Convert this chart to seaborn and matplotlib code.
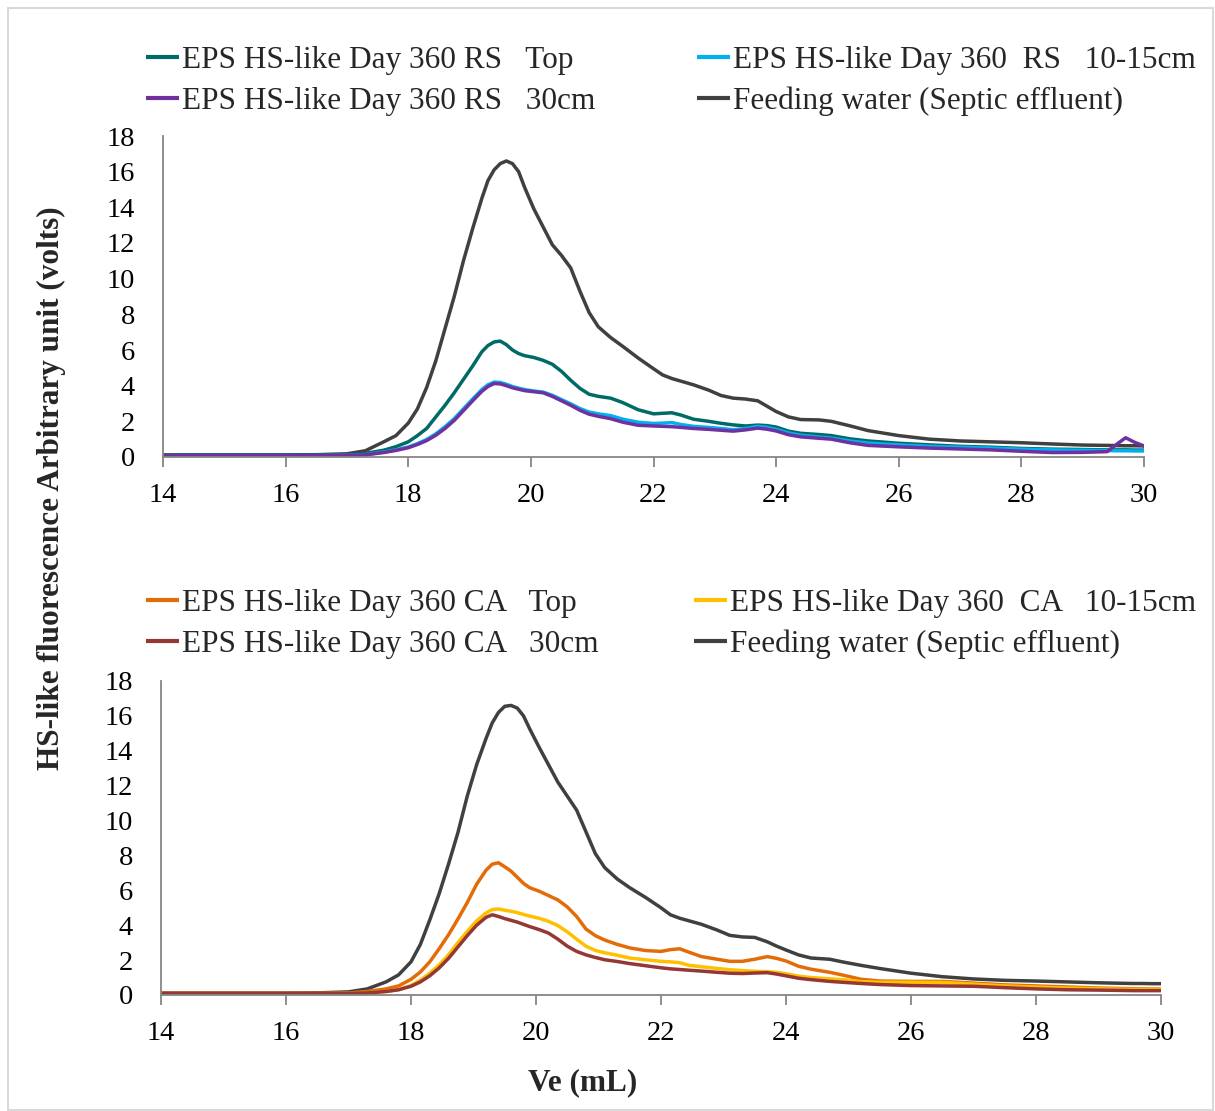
import numpy as np
import pandas as pd
import matplotlib
matplotlib.use("Agg")
import matplotlib.pyplot as plt
from matplotlib.patches import Rectangle
import seaborn as sns

# ---------------- data ----------------
ve = [14, 15, 16, 16.5, 17, 17.3, 17.6, 17.8,
      18.0, 18.15, 18.3, 18.45, 18.6, 18.75, 18.9, 19.05, 19.2, 19.3, 19.4, 19.5, 19.6, 19.7, 19.8, 19.9,
      20.05, 20.2, 20.35, 20.5, 20.65, 20.8, 20.95, 21.1, 21.3, 21.5, 21.75,
      22.0, 22.15, 22.3, 22.45, 22.65, 22.9, 23.1, 23.3, 23.5, 23.7, 23.85,
      24.0, 24.2, 24.4, 24.7, 24.9, 25.2, 25.5,
      26.0, 26.5, 27.0, 27.5, 28.0, 28.5, 29.0, 29.4, 29.55, 29.7, 29.85, 30.0]

feed_top = [0.12, 0.12, 0.12, 0.13, 0.18, 0.35, 0.85, 1.2,
            1.9, 2.7, 3.9, 5.4, 7.2, 9.0, 11.0, 12.8, 14.5, 15.5, 16.1, 16.45, 16.6, 16.45, 16.0, 15.1,
            13.9, 12.9, 11.9, 11.3, 10.6, 9.3, 8.1, 7.3, 6.7, 6.2, 5.55,
            4.95, 4.6, 4.4, 4.25, 4.05, 3.75, 3.45, 3.3, 3.25, 3.15, 2.85,
            2.55, 2.25, 2.1, 2.08, 2.0, 1.75, 1.48,
            1.2, 1.0, 0.9, 0.85, 0.8, 0.73, 0.67, 0.65, 0.64, 0.63, 0.63, 0.62]
rs_top = [0.1, 0.1, 0.1, 0.1, 0.13, 0.2, 0.38, 0.58,
          0.85, 1.2, 1.6, 2.25, 2.9, 3.6, 4.35, 5.1, 5.9, 6.25, 6.45, 6.5, 6.3, 6.0, 5.8, 5.68,
          5.58, 5.42, 5.2, 4.8, 4.3, 3.85, 3.52, 3.4, 3.3, 3.05, 2.65,
          2.42, 2.45, 2.48, 2.35, 2.12, 2.0, 1.89, 1.8, 1.74, 1.79, 1.76,
          1.68, 1.45, 1.33, 1.26, 1.2, 1.02, 0.9,
          0.77, 0.68, 0.6, 0.55, 0.48, 0.44, 0.42, 0.4, 0.4, 0.4, 0.39, 0.39]
rs_mid = [0.08, 0.08, 0.08, 0.08, 0.1, 0.13, 0.28, 0.4,
          0.56, 0.75, 0.98, 1.3, 1.7, 2.15, 2.7, 3.25, 3.78, 4.05, 4.2, 4.18, 4.08, 3.95, 3.86, 3.78,
          3.7, 3.64, 3.46, 3.22, 2.98, 2.72, 2.52, 2.42, 2.32, 2.12, 1.95,
          1.88, 1.9, 1.93, 1.82, 1.72, 1.66, 1.6, 1.53, 1.6, 1.72, 1.66,
          1.55, 1.35, 1.22, 1.12, 1.06, 0.9, 0.78,
          0.68, 0.6, 0.55, 0.5, 0.44, 0.4, 0.38, 0.36, 0.35, 0.35, 0.34, 0.34]
rs_30 = [0.08, 0.08, 0.08, 0.08, 0.1, 0.12, 0.25, 0.37,
         0.52, 0.7, 0.92, 1.22, 1.6, 2.05, 2.6, 3.15, 3.68, 3.95, 4.12, 4.1, 4.0, 3.88, 3.8, 3.72,
         3.66, 3.6, 3.4, 3.15, 2.9, 2.62, 2.4, 2.28, 2.15, 1.95, 1.78,
         1.74, 1.72, 1.7, 1.66, 1.6, 1.55, 1.5, 1.45, 1.52, 1.62, 1.56,
         1.46, 1.25, 1.13, 1.05, 1.0, 0.8, 0.65,
         0.57, 0.5, 0.45, 0.4, 0.32, 0.25, 0.26, 0.3, 0.7, 1.08, 0.82, 0.62]

feed_bot = [0.1, 0.1, 0.1, 0.12, 0.18, 0.35, 0.75, 1.15,
            1.9, 2.9, 4.3, 5.8, 7.5, 9.3, 11.4, 13.2, 14.7, 15.6, 16.2, 16.55, 16.6, 16.45, 16.0, 15.25,
            14.2, 13.2, 12.2, 11.4, 10.6, 9.35, 8.1, 7.3, 6.65, 6.15, 5.6,
            5.0, 4.6, 4.4, 4.25, 4.05, 3.72, 3.42, 3.33, 3.3, 3.05, 2.8,
            2.58, 2.3, 2.12, 2.05, 1.9, 1.7, 1.52,
            1.25, 1.05, 0.92, 0.84, 0.8, 0.75, 0.7, 0.67, 0.66, 0.66, 0.65, 0.65]
ca_top = [0.1, 0.1, 0.1, 0.1, 0.12, 0.2, 0.35, 0.52,
          0.9, 1.32, 1.9, 2.65, 3.45, 4.35, 5.3, 6.35, 7.15, 7.5, 7.58, 7.35, 7.1, 6.75, 6.4, 6.15,
          5.95, 5.7, 5.45, 5.05, 4.5, 3.78, 3.4, 3.15, 2.9, 2.7, 2.55,
          2.5, 2.6, 2.65, 2.45, 2.2, 2.05, 1.93, 1.93, 2.05, 2.2, 2.1,
          1.95, 1.65, 1.48, 1.3, 1.15, 0.9, 0.8,
          0.78, 0.78, 0.68, 0.58, 0.52, 0.46, 0.4, 0.37, 0.36, 0.35, 0.34, 0.34]
ca_mid = [0.08, 0.08, 0.08, 0.08, 0.1, 0.12, 0.2, 0.3,
          0.55, 0.85, 1.25, 1.72, 2.3, 3.0, 3.65, 4.25, 4.7, 4.9, 4.93, 4.86, 4.8, 4.72, 4.62, 4.52,
          4.4, 4.22, 3.98, 3.62, 3.2, 2.8, 2.55, 2.42, 2.28, 2.12, 2.02,
          1.93, 1.9, 1.85, 1.7, 1.62, 1.52, 1.45, 1.4, 1.36, 1.34, 1.3,
          1.22, 1.08, 1.0, 0.93, 0.88, 0.77, 0.73,
          0.73, 0.72, 0.62, 0.52, 0.45, 0.4, 0.36, 0.33, 0.32, 0.32, 0.31, 0.31]
ca_30 = [0.1, 0.1, 0.1, 0.1, 0.1, 0.12, 0.2, 0.3,
         0.5, 0.75, 1.1, 1.55, 2.1, 2.75, 3.4, 4.0, 4.45, 4.6, 4.5, 4.38, 4.28, 4.18, 4.05, 3.92,
         3.75, 3.55, 3.2, 2.8, 2.5, 2.3, 2.15, 2.02, 1.92, 1.8, 1.68,
         1.56, 1.5, 1.46, 1.42, 1.37, 1.3, 1.25, 1.23, 1.26, 1.28, 1.2,
         1.1, 0.96, 0.88, 0.78, 0.73, 0.66, 0.6,
         0.54, 0.52, 0.5, 0.42, 0.35, 0.3, 0.28, 0.26, 0.25, 0.25, 0.25, 0.25]

top_labels = ["EPS HS-like Day 360 RS   Top", "EPS HS-like Day 360 RS   30cm",
              "EPS HS-like Day 360  RS   10-15cm", "Feeding water (Septic effluent)"]
bot_labels = ["EPS HS-like Day 360 CA   Top", "EPS HS-like Day 360 CA   30cm",
              "EPS HS-like Day 360  CA   10-15cm", "Feeding water (Septic effluent)"]
top_series = [rs_top, rs_30, rs_mid, feed_top]
bot_series = [ca_top, ca_30, ca_mid, feed_bot]
top_colors = ["#006B66", "#7030A0", "#00B0F0", "#404040"]
bot_colors = ["#E36C09", "#953735", "#FFC000", "#404040"]
draw_order = [3, 0, 2, 1]

x_ticks = [14, 16, 18, 20, 22, 24, 26, 28, 30]
y_ticks = [0, 2, 4, 6, 8, 10, 12, 14, 16, 18]

# ---------------- style ----------------
sns.set_theme(style="white")
plt.rcParams['font.family'] = ['Liberation Serif', 'DejaVu Serif']

W, H = 1215, 1111
fig = plt.figure(figsize=(W / 100, H / 100), dpi=100)
fig.patch.set_facecolor("white")
fig.add_artist(Rectangle((8 / W, 1 / H), 1 - 10 / W, 1 - 9 / H, transform=fig.transFigure,
                         fill=False, edgecolor="#D9D9D9", linewidth=1.5))

def ax_rect(l, r, t, b):
    return [l / W, 1 - b / H, (r - l) / W, (b - t) / H]

ax1 = fig.add_axes(ax_rect(163, 1144, 136, 457))
ax2 = fig.add_axes(ax_rect(161, 1161, 681, 995))

FS_TICK = 20.5
FS_LEG = 22.5
for ax, series, labels, colors, leg_y, cols in [
        (ax1, top_series, top_labels, top_colors, 58, (146, 697)),
        (ax2, bot_series, bot_labels, bot_colors, 601, (146, 694))]:
    handles = [None] * 4
    for i in draw_order:
        df = pd.DataFrame({"ve": ve, "v": series[i]})
        sns.lineplot(data=df, x="ve", y="v", ax=ax, color=colors[i], linewidth=2.5,
                     label=labels[i], legend=False, sort=False,
                     solid_joinstyle="round", solid_capstyle="round")
        handles[i] = ax.lines[-1]
    ax.set_xlim(14, 30)
    ax.set_ylim(0, 18)
    ax.set_xticks(x_ticks)
    ax.set_yticks(y_ticks)
    ax.set_xticklabels([str(t) for t in x_ticks])
    ax.set_yticklabels([str(t) for t in y_ticks])
    ax.set_xlabel("")
    ax.set_ylabel("")
    for s in ["top", "right"]:
        ax.spines[s].set_visible(False)
    for s in ["left", "bottom"]:
        ax.spines[s].set_color("#868686")
        ax.spines[s].set_linewidth(1.3)
    ax.tick_params(axis="x", direction="out", length=7, width=1.3, color="#868686",
                   pad=12, labelsize=FS_TICK, labelcolor="black", bottom=True)
    ax.tick_params(axis="y", length=0, pad=20, labelsize=FS_TICK, labelcolor="black", left=True)
    # legend: two columns as two legends
    for col, xpos in enumerate(cols):
        leg = fig.legend(handles=handles[2 * col:2 * col + 2], labels=labels[2 * col:2 * col + 2],
                         loc="upper left", bbox_to_anchor=(xpos / W, 1 - (leg_y - 12) / H),
                         frameon=False, fontsize=FS_LEG, handlelength=1.05, handletextpad=0.1,
                         borderpad=0, borderaxespad=0, labelspacing=0.37)
        for ln in leg.get_lines():
            ln.set_linewidth(3)
            ln.set_solid_capstyle("butt")

fig.text(51 / W, 1 - 488 / H, "HS-like fluorescence Arbitrary unit (volts)", rotation=90,
         ha="center", va="center", fontsize=FS_LEG, fontweight="bold")
fig.text(583 / W, 1 - 1083 / H, "Ve (mL)", ha="center", va="center", fontsize=FS_LEG,
         fontweight="bold")

fig.savefig("out.png", dpi=100)
